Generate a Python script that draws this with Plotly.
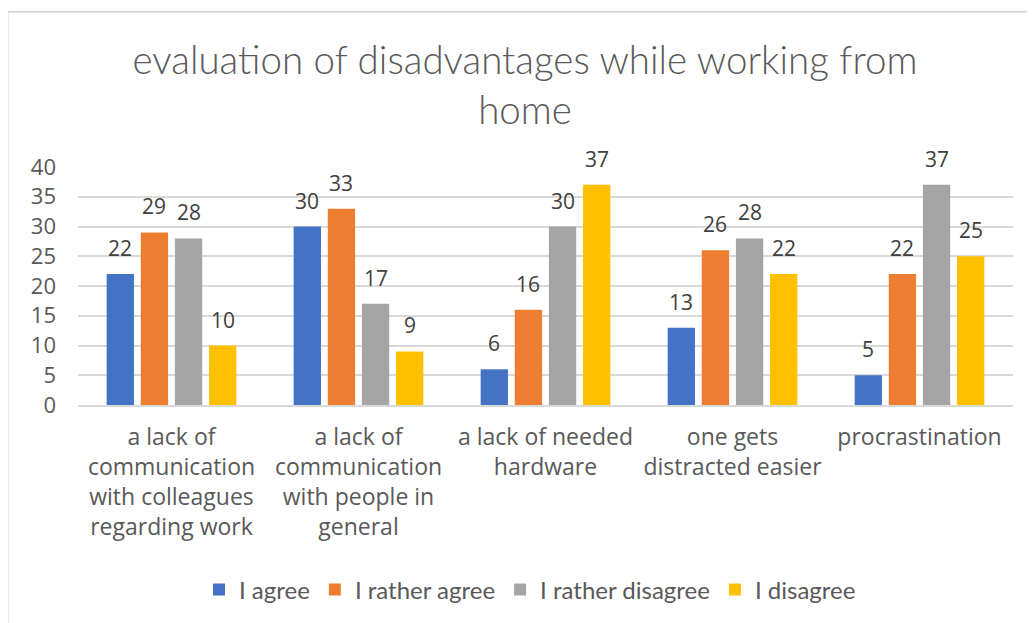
import plotly.graph_objects as go

categories = [
    "a lack of<br>communication<br>with colleagues<br>regarding work",
    "a lack of<br>communication<br>with people in<br>general",
    "a lack of needed<br>hardware",
    "one gets<br>distracted easier",
    "procrastination",
]
series_names = ["I agree", "I rather agree", "I rather disagree", "I disagree"]
agree = [22, 30, 6, 13, 5]
rather_agree = [29, 33, 16, 26, 22]
rather_disagree = [28, 17, 30, 28, 37]
disagree = [10, 9, 37, 22, 25]
y_ticks = [0, 5, 10, 15, 20, 25, 30, 35, 40]

colors = ["#4472C4", "#ED7D31", "#A5A5A5", "#FFC000"]
values = [agree, rather_agree, rather_disagree, disagree]

OFF = 8  # page body margin
W, H = 1035 - OFF, 623 - OFF
L, R, T = 78 - OFF, 22, 167 - OFF
B = H - (406 - OFF)
pw, ph = W - L - R, H - T - B
BARGAP, GROUPGAP = 0.27, 0.2
slot_px = pw / len(categories) * (1 - BARGAP) / len(series_names)

fig = go.Figure()
for i, (name, vals, col) in enumerate(zip(series_names, values, colors)):
    fig.add_trace(go.Bar(
        x=categories, y=vals, name=name, marker_color=col,
        marker_line_width=0,
    ))
    shift = (i - (len(series_names) - 1) / 2) * slot_px
    for c, v in zip(categories, vals):
        fig.add_annotation(
            x=c, y=v, text=str(v), showarrow=False, xshift=shift,
            yanchor="bottom", yshift=10,
            font=dict(family="Open Sans", size=21, color="#404040"),
        )

fig.update_layout(
    width=W, height=H,
    margin=dict(l=L, r=R, t=T, b=B),
    paper_bgcolor="white", plot_bgcolor="white",
    barmode="group", bargap=BARGAP, bargroupgap=GROUPGAP,
    title=dict(
        text="evaluation of disadvantages while working from<br>home",
        x=(525 - OFF) / W, xanchor="center", y=1 - 66 / H, yanchor="middle",
        font=dict(family="Lato", size=38.5, color="#595959", weight=300),
    ),
    legend=dict(
        orientation="h", x=(530 - 78) / pw, xanchor="center",
        y=(406 - 590) / ph, yanchor="middle",
        font=dict(family="Lato", size=24, color="#595959"),
        itemwidth=30,
    ),
    showlegend=True,
)
fig.update_yaxes(
    range=[0, 40], tickvals=y_ticks, showgrid=True, gridcolor="#d9d9d9",
    gridwidth=1.5, zeroline=False, showline=False, ticks="",
    tickfont=dict(family="Open Sans", size=22, color="#595959"),
    ticklabelstandoff=21,
)
fig.update_xaxes(
    showline=True, linecolor="#d9d9d9", linewidth=1.5, ticks="",
    tickfont=dict(family="Open Sans", size=23, color="#595959"),
    ticklabelstandoff=11, tickangle=0,
)
# chart frame (left and top edges visible)
fig.add_shape(
    type="rect", xref="paper", yref="paper",
    x0=(7.5 - 78) / pw, x1=(1035 + 20 - 78) / pw,
    y0=(406 - (623 + 20)) / ph, y1=(406 - 11) / ph,
    line=dict(color="#d9d9d9", width=2), fillcolor="rgba(0,0,0,0)", layer="below",
)
fig.write_html("out.html")
